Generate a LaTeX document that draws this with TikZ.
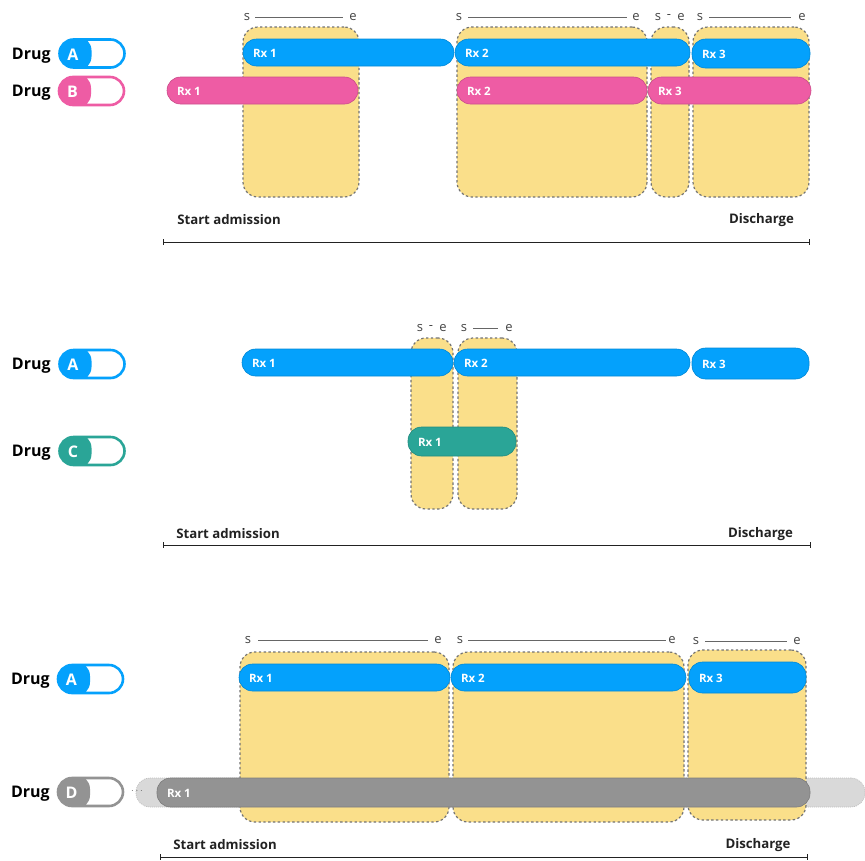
\documentclass[tikz,border=0pt]{standalone}
\usepackage{fontspec}
\setmainfont{Open Sans}
\definecolor{cA}{HTML}{04A1FC}
\definecolor{cB}{HTML}{EE5CA4}
\definecolor{cC}{HTML}{2AA597}
\definecolor{cD}{HTML}{939393}
\definecolor{yel}{HTML}{FADF8A}
\definecolor{lg}{HTML}{D9D9D9}
\definecolor{ink}{HTML}{222222}
\tikzset{
  every node/.style={inner sep=0pt,outer sep=0pt},
  yelbox/.style={fill=yel,draw=black!55,line width=1.2pt,dash pattern=on 2.4pt off 2.4pt,rounded corners=15pt},
  ghost/.style={fill=lg,draw=black!25,line width=0.7pt,dash pattern=on 1pt off 1pt,rounded corners=14pt},
  barbox/.style={rounded corners=13.5pt},
  barlabel/.style={text=white,font=\fontsize{11.5}{13}\selectfont\bfseries,anchor=west},
  drugtext/.style={text=black,font=\fontsize{16}{18}\selectfont\bfseries,anchor=west},
  pilltext/.style={text=white,font=\fontsize{16}{18}\selectfont\bfseries},
  marktext/.style={text=ink!85,font=\fontsize{13}{14}\selectfont},
  markline/.style={draw=black!60,line width=0.7pt},
  timetext/.style={text=ink,font=\fontsize{13.2}{15}\selectfont\bfseries},
}
% \shapebox{name}{x1}{y1}{x2}{y2}{style}
\newcommand{\shapebox}[6]{%
  \pgfmathsetmacro{\cenx}{(#2+#4)/2}\pgfmathsetmacro{\ceny}{(#3+#5)/2}%
  \pgfmathsetmacro{\boxw}{#4-#2}\pgfmathsetmacro{\boxh}{#5-#3}%
  \node[#6,minimum width=\boxw pt,minimum height=\boxh pt] (#1) at (\cenx,\ceny) {};}
% \rxbar{name}{x1}{y1}{x2}{y2}{colour}{text}
\newcommand{\rxbar}[7]{%
  \shapebox{#1}{#2}{#3}{#4}{#5}{barbox,fill=#6,draw=#6!85!black,line width=0.6pt}%
  \node[barlabel] (#1t) at ([xshift=10pt,yshift=-0.5pt]#1.west) {#7};}
% \pill{name}{x}{y}{colour}{letter}{text x}
\newcommand{\pill}[6]{%
  \node[drugtext] (#1d) at (#6,#3+1.8) {Drug};%
  \node[rectangle,rounded corners=14pt,minimum width=65pt,minimum height=28pt,draw=#4,line width=2.6pt,fill=white,
    path picture={\fill[#4] ([xshift=-3pt,yshift=-3pt]path picture bounding box.south west) rectangle ([xshift=32pt,yshift=3pt]path picture bounding box.north west);}] (#1) at (#2,#3) {};%
  \node[pilltext] (#1l) at (#2-19,#3+0.8) {#5};}
% \se{id}{sx}{lx1}{lx2}{ex}{y}
\newcommand{\se}[6]{%
  \node[marktext] (s#1) at (#2,#6+1) {s};%
  \node[marktext] (e#1) at (#5,#6+1) {e};%
  \draw[markline,shorten <=#3pt-#2pt-3pt,shorten >=#5pt-#4pt-3.5pt] (s#1) -- (e#1);}
\newcommand{\sde}[5]{%
  \node[marktext] (s#1) at (#2,#5+1) {s};%
  \node[marktext] (d#1) at (#3,#5+1) {-};%
  \node[marktext] (e#1) at (#4,#5+1) {e};}
% \tline{id}{startx}{dischargex}{ty}{x1}{x2}{ly}
\newcommand{\tline}[7]{%
  \node[timetext] (st#1) at (#2,#4+1) {Start admission};%
  \node[timetext] (di#1) at (#3,#4+1) {Discharge};%
  \coordinate (ta#1) at (#5,#7);\coordinate (tb#1) at (#6,#7);%
  \draw[draw=ink,line width=0.9pt] (ta#1) -- (tb#1);%
  \draw[draw=ink,line width=0.9pt] ([yshift=3pt]ta#1) -- ([yshift=-3pt]ta#1);%
  \draw[draw=ink,line width=0.9pt] ([yshift=3pt]tb#1) -- ([yshift=-3pt]tb#1);}
\begin{document}
\begin{tikzpicture}[x=1pt,y=-1pt]
\useasboundingbox (0,0) rectangle (865,860);
% ---------- panel 1
\shapebox{y11}{243}{27}{359}{197}{yelbox}
\shapebox{y12}{457}{27}{647}{197}{yelbox}
\shapebox{y13}{651}{27}{689}{197}{yelbox}
\shapebox{y14}{693}{27}{809}{197}{yelbox}
\se{11}{247}{255}{343}{353}{16}
\se{12}{459}{468}{627}{636}{16}
\sde{13}{658}{669}{681}{16}
\se{14}{700}{709}{791}{802}{16}
\pill{p1a}{92}{53.5}{cA}{A}{12}
\pill{p1b}{91.5}{91}{cB}{B}{12}
\rxbar{a11}{243}{39}{454}{66}{cA}{Rx 1}
\rxbar{a12}{455}{39}{690}{66}{cA}{Rx 2}
\rxbar{a13}{692}{39}{810}{68}{cA}{Rx 3}
\rxbar{b11}{167}{77}{358}{104}{cB}{Rx 1}
\rxbar{b12}{457}{77}{647}{104}{cB}{Rx 2}
\rxbar{b13}{648}{77}{811}{104}{cB}{Rx 3}
\tline{1}{229}{761.5}{219}{163}{809}{242}
% ---------- panel 2
\shapebox{y21}{411}{338}{453}{509}{yelbox}
\shapebox{y22}{458}{338}{517}{509}{yelbox}
\sde{21}{420}{431}{443}{327}
\se{22}{464}{473}{498}{509}{327}
\pill{p2a}{92}{364}{cA}{A}{12}
\pill{p2c}{92}{451}{cC}{C}{12}
\rxbar{a21}{242}{349}{453}{376}{cA}{Rx 1}
\rxbar{a22}{454}{349}{690}{376}{cA}{Rx 2}
\rxbar{a23}{692}{348}{809}{379}{cA}{Rx 3}
\rxbar{c21}{408}{427}{516}{456}{cC}{Rx 1}
\tline{2}{228}{760.5}{533}{163}{810}{545}
% ---------- panel 3
\shapebox{g31}{136}{778}{865}{807}{ghost}
\shapebox{y31}{240}{652}{449}{822}{yelbox}
\shapebox{y32}{453}{652}{684}{822}{yelbox}
\shapebox{y33}{688}{650}{806}{820}{yelbox}
\se{31}{248}{258}{428}{438}{639}
\se{32}{460}{468}{666}{672}{639}
\se{33}{696}{705}{787}{797}{640}
\pill{p3a}{90.5}{679}{cA}{A}{11}
\pill{p3d}{90.5}{792}{cD}{D}{11}
\node[text=black!60,font=\fontsize{10}{12}\selectfont] (dots) at (137,791) {$\cdots$};
\rxbar{a31}{239}{664}{450}{691}{cA}{Rx 1}
\rxbar{a32}{451}{664}{686}{691}{cA}{Rx 2}
\rxbar{a33}{689}{662}{806}{693}{cA}{Rx 3}
\rxbar{d31}{157}{778}{810}{807}{cD}{Rx 1}
\tline{3}{225}{758}{844}{160}{807}{857}
\end{tikzpicture}
\end{document}
